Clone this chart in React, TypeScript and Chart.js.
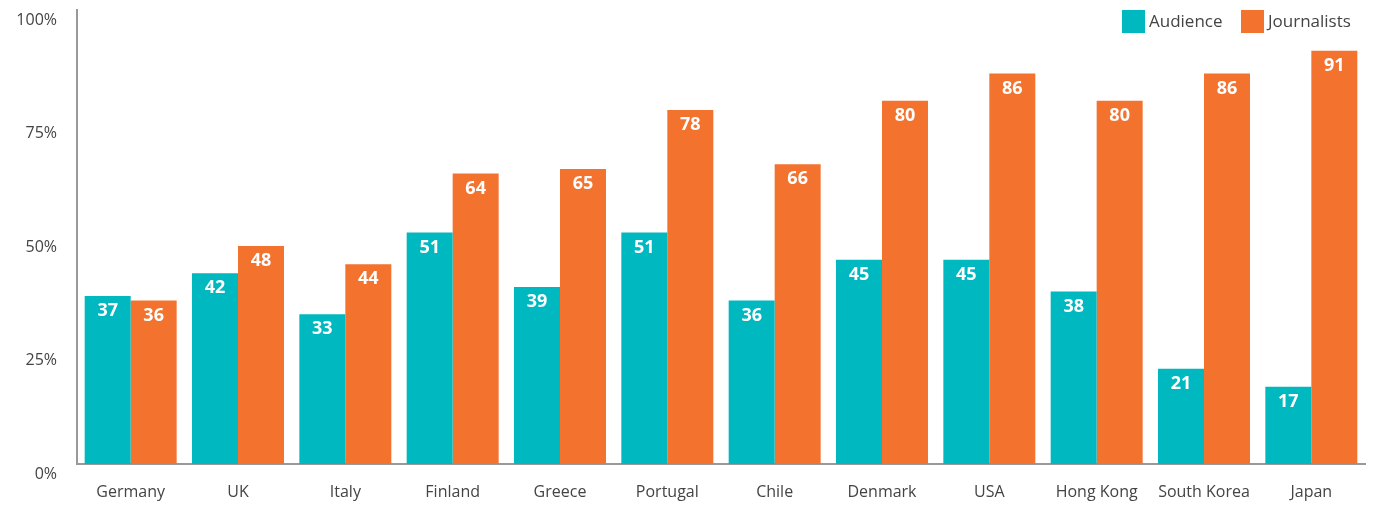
import React, { useEffect, useRef } from "react";
import { Chart, registerables } from "chart.js";

Chart.register(...registerables);

const categories = ["Germany", "UK", "Italy", "Finland", "Greece", "Portugal", "Chile", "Denmark", "USA", "Hong Kong", "South Korea", "Japan"];
const audience = [37, 42, 33, 51, 39, 51, 36, 45, 45, 38, 21, 17];
const journalists = [36, 48, 44, 64, 65, 78, 66, 80, 86, 80, 86, 91];
const yTicks = [0, 25, 50, 75, 100];

const TEAL = "#00B8C0";
const ORANGE = "#F3722E";

const valueLabels = {
  id: "valueLabels",
  afterDatasetsDraw(chart: any) {
    const ctx = chart.ctx;
    ctx.save();
    ctx.fillStyle = "#ffffff";
    ctx.font = "bold 18px 'Open Sans', sans-serif";
    ctx.textAlign = "center";
    ctx.textBaseline = "middle";
    chart.data.datasets.forEach((ds: any, di: number) => {
      const meta = chart.getDatasetMeta(di);
      meta.data.forEach((bar: any, i: number) => {
        ctx.fillText(String(ds.data[i]), bar.x, bar.y + 15);
      });
    });
    ctx.restore();
  },
};

const legendX = [1122, 1241];

const customLegend = {
  id: "customLegend",
  afterDraw(chart: any) {
    const ctx = chart.ctx;
    ctx.save();
    ctx.font = "17px 'Open Sans', sans-serif";
    ctx.textBaseline = "middle";
    ctx.textAlign = "left";
    const box = 23;
    const yTop = 10;
    chart.data.datasets.forEach((d: any, i: number) => {
      const x = legendX[i];
      ctx.fillStyle = d.backgroundColor;
      ctx.fillRect(x, yTop, box, box);
      ctx.fillStyle = "#444444";
      ctx.fillText(d.label, x + box + 4, yTop + box / 2 + 1);
    });
    ctx.restore();
  },
};

export default function App() {
  const ref = useRef<HTMLCanvasElement | null>(null);
  useEffect(() => {
    if (!ref.current) return;
    const chart = new Chart(ref.current, {
      type: "bar",
      data: {
        labels: categories,
        datasets: [
          { label: "Audience", data: audience, backgroundColor: TEAL, categoryPercentage: 0.857, barPercentage: 1 },
          { label: "Journalists", data: journalists, backgroundColor: ORANGE, categoryPercentage: 0.857, barPercentage: 1 },
        ],
      },
      options: {
        animation: false,
        responsive: false,
        maintainAspectRatio: false,
        layout: { padding: { top: 10, right: 10, left: 0, bottom: 0 } },
        plugins: { legend: { display: false }, tooltip: { enabled: false } },
        scales: {
          x: {
            grid: { display: false, drawTicks: false },
            border: { display: true, color: "#999999", width: 2 },
            ticks: { color: "#444444", font: { family: "'Open Sans', sans-serif", size: 16 }, padding: 19, maxRotation: 0, autoSkip: false },
            afterFit: (s: any) => { s.height = 41; s.paddingLeft = 0; s.paddingRight = 0; },
          },
          y: {
            min: 0,
            max: 100,
            afterBuildTicks: (s: any) => { s.ticks = yTicks.map((v) => ({ value: v })); },
            grid: { display: false, drawTicks: false },
            border: { display: true, color: "#999999", width: 2 },
            ticks: {
              color: "#444444",
              font: { family: "'Open Sans', sans-serif", size: 16 },
              padding: 20,
              labelOffset: 10,
              callback: (v: any) => v + "%",
            },
            afterFit: (s: any) => { s.width = 77; s.paddingTop = 0; s.paddingBottom = 0; },
          },
        },
      },
      plugins: [valueLabels, customLegend],
    });
    return () => chart.destroy();
  }, []);
  return (
    <div style={{ position: "fixed", left: 0, top: 0, width: 1375, height: 505, background: "#fff" }}>
      <canvas ref={ref} width={1375} height={505} />
    </div>
  );
}
